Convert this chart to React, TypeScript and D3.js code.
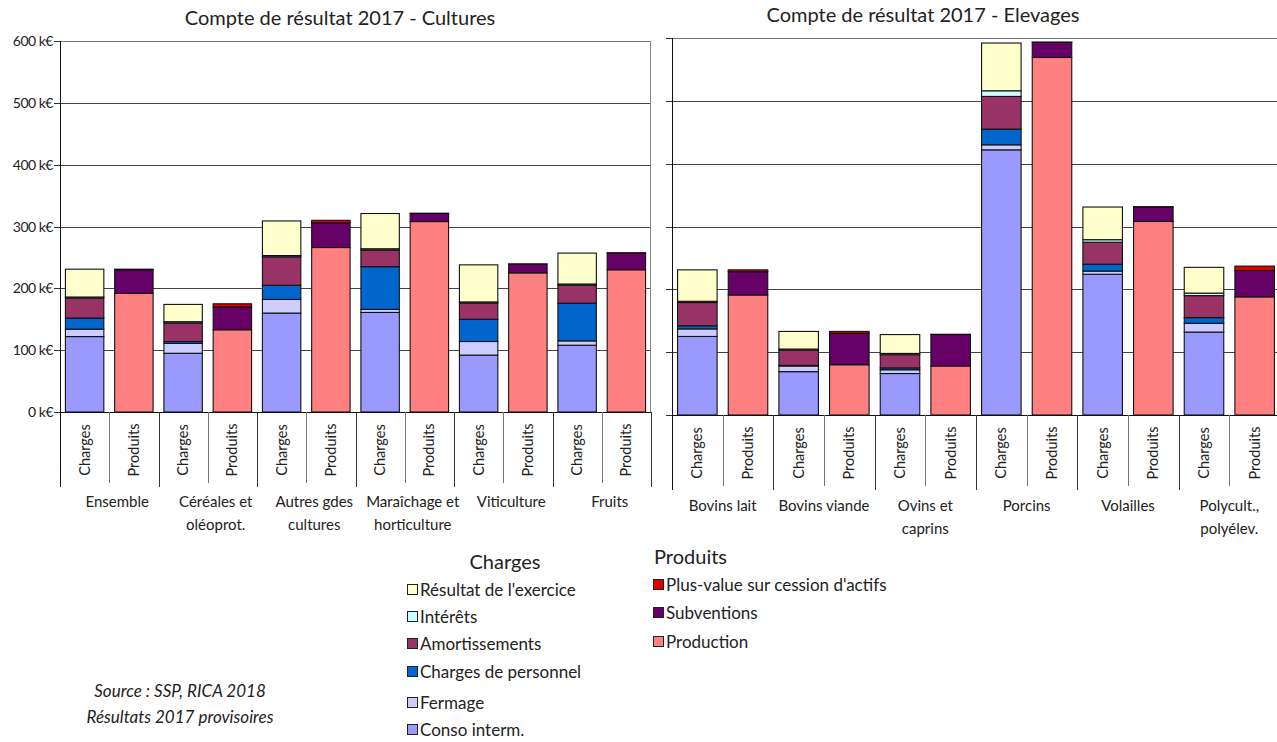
import React, { useRef, useEffect } from 'react';
import * as d3 from 'd3';

// categories
const cultureGroups = [['Ensemble'], ['Céréales et', 'oléoprot.'], ['Autres gdes', 'cultures'], ['Maraîchage et', 'horticulture'], ['Viticulture'], ['Fruits']];
const elevageGroups = [['Bovins lait'], ['Bovins viande'], ['Ovins et', 'caprins'], ['Porcins'], ['Volailles'], ['Polycult.,', 'polyélev.']];
const barTypes = ['Charges', 'Produits'];
const yTicks = [0, 100, 200, 300, 400, 500, 600];

// charges, cultures (k€)
const consoCultures = [122, 95, 160, 161, 92, 108];
const fermageCultures = [12, 16, 22, 5, 22, 7];
const personnelCultures = [18, 3, 23, 69, 36, 61];
const amortCultures = [32, 30, 46, 27, 26, 29];
const interetsCultures = [2, 2, 2, 2, 2, 2];
const resultatCultures = [45, 28, 56, 57, 60, 50];
// produits, cultures
const productionCultures = [192, 133, 266, 308, 225, 230];
const subventionsCultures = [38, 37, 40, 13, 14, 27];
const plusValueCultures = [1, 5, 4, 0.5, 0.5, 0.5];

// charges, elevages
const consoElevages = [125, 69, 66, 422, 224, 132];
const fermageElevages = [12, 9, 6, 8, 5, 14];
const personnelElevages = [5, 1, 3, 25, 11, 9];
const amortElevages = [37, 24, 21, 52, 35, 35];
const interetsElevages = [2, 2, 2, 9, 4, 4];
const resultatElevages = [50, 28, 30, 76, 52, 41];
// produits, elevages
const productionElevages = [191, 80, 78, 569, 308, 188];
const subventionsElevages = [37, 50, 50, 24, 23, 42];
const plusValueElevages = [3, 3, 0.5, 0.5, 0.5, 7];

const chargeKeys = ['conso', 'fermage', 'personnel', 'amort', 'interets', 'resultat'];
const produitKeys = ['production', 'subventions', 'plusValue'];
const colors: Record<string, string> = {
  conso: '#9999FF',
  fermage: '#CCCCFF',
  personnel: '#0066CC',
  amort: '#993366',
  interets: '#CCFFFF',
  resultat: '#FFFFCC',
  production: '#FF8080',
  subventions: '#660066',
  plusValue: '#E00000',
};
const chargeLegend = [
  ['resultat', "Résultat de l'exercice"],
  ['interets', 'Intérêts'],
  ['amort', 'Amortissements'],
  ['personnel', 'Charges de personnel'],
  ['fermage', 'Fermage'],
  ['conso', 'Conso interm.'],
];
const produitLegend = [
  ['plusValue', "Plus-value sur cession d'actifs"],
  ['subventions', 'Subventions'],
  ['production', 'Production'],
];

const FONT = 'Lato, "Open Sans", sans-serif';

interface Panel {
  title: string;
  groups: string[][];
  charges: number[][];
  produits: number[][];
  left: number;
  right: number;
  top: number;
  bottom: number;
  yLabels: boolean;
  titleX: number;
  titleY: number;
  groupLabelY: number;
  groupShift: number;
}

function drawPanel(svg: d3.Selection<SVGSVGElement, unknown, null, undefined>, p: Panel) {
  const g = svg.append('g');
  const y = d3.scaleLinear().domain([0, 600]).range([p.bottom, p.top]);
  const slots = d3.range(p.groups.length * 2);
  const xSlot = d3.scaleBand<number>().domain(slots).range([p.left, p.right]);
  const x = d3.scaleBand<number>().domain(slots).range([p.left, p.right]).paddingInner(0.22).paddingOuter(0.11);

  // title
  g.append('text')
    .attr('x', p.titleX)
    .attr('y', p.titleY)
    .attr('text-anchor', 'middle')
    .style('font-family', FONT)
    .style('font-size', '20px')
    .attr('fill', '#222')
    .text(p.title);

  // gridlines
  g.selectAll('.grid')
    .data(yTicks.filter((t) => t > 0))
    .enter()
    .append('line')
    .attr('x1', p.left)
    .attr('x2', p.right)
    .attr('y1', (d) => Math.round(y(d)) + 0.5)
    .attr('y2', (d) => Math.round(y(d)) + 0.5)
    .attr('stroke', (d) => (d === 600 ? '#777' : '#444'))
    .attr('stroke-width', 1);

  // plot border right
  g.append('line')
    .attr('x1', p.right - 0.5).attr('x2', p.right - 0.5)
    .attr('y1', y(600)).attr('y2', p.bottom)
    .attr('stroke', '#888');

  // y ticks
  g.selectAll('.ytick')
    .data(yTicks)
    .enter()
    .append('line')
    .attr('x1', p.left - 6)
    .attr('x2', p.left)
    .attr('y1', (d) => Math.round(y(d)) + 0.5)
    .attr('y2', (d) => Math.round(y(d)) + 0.5)
    .attr('stroke', '#333');

  if (p.yLabels) {
    g.selectAll('.ylab')
      .data(yTicks)
      .enter()
      .append('text')
      .attr('x', p.left - 7)
      .attr('y', (d) => y(d) + 5)
      .attr('text-anchor', 'end')
      .style('font-family', FONT)
      .style('font-size', '14px')
      .style('letter-spacing', '-0.5px')
      .attr('fill', '#222')
      .text((d) => `${d} k€`);
  }

  // stacks
  const chargeRows = p.charges[0].map((_, i) => {
    const r: Record<string, number> = {};
    chargeKeys.forEach((k, j) => (r[k] = p.charges[j][i]));
    return r;
  });
  const produitRows = p.produits[0].map((_, i) => {
    const r: Record<string, number> = {};
    produitKeys.forEach((k, j) => (r[k] = p.produits[j][i]));
    return r;
  });
  const chargeStack = d3.stack<Record<string, number>>().keys(chargeKeys)(chargeRows);
  const produitStack = d3.stack<Record<string, number>>().keys(produitKeys)(produitRows);

  const drawStack = (stack: d3.Series<Record<string, number>, string>[], offset: number) => {
    stack.forEach((s) => {
      g.selectAll(null)
        .data(s)
        .enter()
        .append('rect')
        .attr('x', (_, i) => x(i * 2 + offset)!)
        .attr('width', x.bandwidth())
        .attr('y', (d) => y(d[1]))
        .attr('height', (d) => y(d[0]) - y(d[1]))
        .attr('fill', colors[s.key])
        .attr('stroke', '#111')
        .attr('stroke-width', 1.1);
    });
  };
  drawStack(chargeStack, 0);
  drawStack(produitStack, 1);

  // axes lines
  g.append('line')
    .attr('x1', p.left).attr('x2', p.right)
    .attr('y1', p.bottom + 0.5).attr('y2', p.bottom + 0.5)
    .attr('stroke', '#111');
  g.append('line')
    .attr('x1', p.left + 0.5).attr('x2', p.left + 0.5)
    .attr('y1', y(600)).attr('y2', p.bottom + 75)
    .attr('stroke', '#111');

  // category separators
  g.selectAll('.sep')
    .data(slots.slice(1).concat([slots.length]))
    .enter()
    .append('line')
    .attr('x1', (d) => Math.round(p.left + d * xSlot.step()) + 0.5)
    .attr('x2', (d) => Math.round(p.left + d * xSlot.step()) + 0.5)
    .attr('y1', p.bottom)
    .attr('y2', (d) => p.bottom + (d % 2 === 0 ? 75 : 71))
    .attr('stroke', (d) => (d % 2 === 0 ? '#333' : '#777'));

  // Charges / Produits rotated labels
  g.selectAll('.blab')
    .data(slots)
    .enter()
    .append('text')
    .attr('transform', (d) => `translate(${xSlot(d)! + xSlot.step() / 2 + 5},${p.bottom + 38}) rotate(-90)`)
    .attr('text-anchor', 'middle')
    .style('font-family', FONT)
    .style('font-size', '14.5px')
    .attr('fill', '#222')
    .text((d) => barTypes[d % 2]);

  // group labels
  p.groups.forEach((lines, i) => {
    const cx = p.left + (i * 2 + 1) * xSlot.step() + p.groupShift;
    lines.forEach((line, j) => {
      g.append('text')
        .attr('x', cx)
        .attr('y', p.groupLabelY + j * 23)
        .attr('text-anchor', 'middle')
        .style('font-family', FONT)
        .style('font-size', '15px')
        .attr('fill', '#222')
        .text(line);
    });
  });
}

function App() {
  const svgRef = useRef<SVGSVGElement>(null);

  useEffect(() => {
    const svg = d3.select(svgRef.current!);
    svg.selectAll('*').remove();

    svg.append('rect').attr('width', 1277).attr('height', 742).attr('fill', '#fff');

    drawPanel(svg, {
      title: 'Compte de résultat 2017 - Cultures',
      groups: cultureGroups,
      charges: [consoCultures, fermageCultures, personnelCultures, amortCultures, interetsCultures, resultatCultures],
      produits: [productionCultures, subventionsCultures, plusValueCultures],
      left: 60,
      right: 651,
      top: 41,
      bottom: 412,
      yLabels: true,
      titleX: 340,
      titleY: 25,
      groupLabelY: 507,
      groupShift: 8,
    });

    drawPanel(svg, {
      title: 'Compte de résultat 2017 - Elevages',
      groups: elevageGroups,
      charges: [consoElevages, fermageElevages, personnelElevages, amortElevages, interetsElevages, resultatElevages],
      produits: [productionElevages, subventionsElevages, plusValueElevages],
      left: 672,
      right: 1280,
      top: 38,
      bottom: 415,
      yLabels: false,
      titleX: 923,
      titleY: 22,
      groupLabelY: 511,
      groupShift: 0,
    });

    // legend: charges
    const lg = svg.append('g').style('font-family', FONT).attr('fill', '#222');
    lg.append('text').attr('x', 505).attr('y', 569).attr('text-anchor', 'middle').style('font-size', '20px').text('Charges');
    const chargeRowsY = [596, 623, 650, 678, 709, 736];
    chargeLegend.forEach(([k, label], i) => {
      lg.append('rect').attr('x', 407.5).attr('y', chargeRowsY[i] - 11.5).attr('width', 10).attr('height', 10)
        .attr('fill', colors[k]).attr('stroke', '#222');
      lg.append('text').attr('x', 420).attr('y', chargeRowsY[i]).style('font-size', '17px').text(label);
    });

    lg.append('text').attr('x', 654).attr('y', 564).style('font-size', '20px').text('Produits');
    const produitRowsY = [591, 619, 648];
    produitLegend.forEach(([k, label], i) => {
      lg.append('rect').attr('x', 653.5).attr('y', produitRowsY[i] - 11.5).attr('width', 10).attr('height', 10)
        .attr('fill', colors[k]).attr('stroke', '#222');
      lg.append('text').attr('x', 666).attr('y', produitRowsY[i]).style('font-size', '17px').text(label);
    });

    // source
    lg.append('text').attr('x', 180).attr('y', 697).attr('text-anchor', 'middle').style('font-size', '17px')
      .style('font-style', 'italic').text('Source : SSP, RICA 2018');
    lg.append('text').attr('x', 180).attr('y', 723).attr('text-anchor', 'middle').style('font-size', '17px')
      .style('font-style', 'italic').text('Résultats 2017 provisoires');
  }, []);

  return (
    <svg ref={svgRef} width={1277} height={742} style={{ position: 'absolute', left: 0, top: 0, display: 'block' }} />
  );
}

export default App;
